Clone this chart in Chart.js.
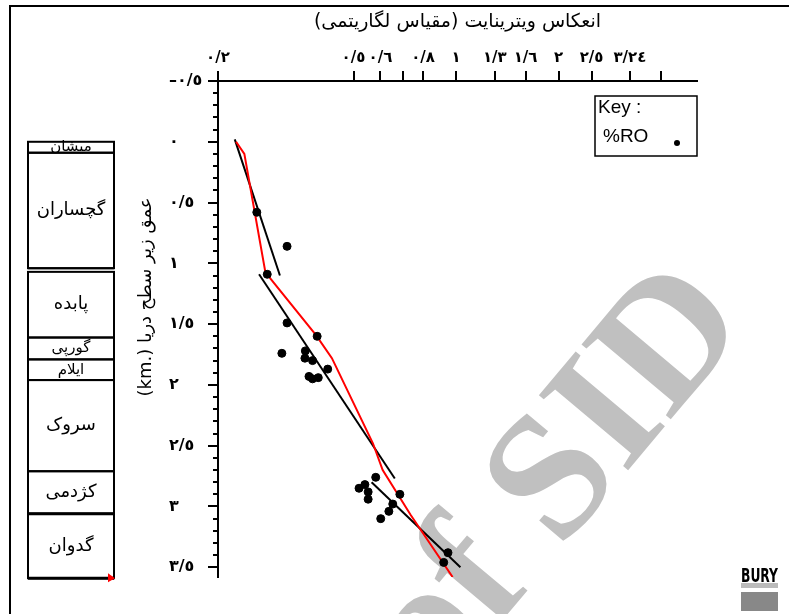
<!DOCTYPE html>
<html>
<head>
<meta charset="utf-8">
<script src="https://cdn.jsdelivr.net/npm/chart.js@4.4.0/dist/chart.umd.min.js"></script>
<style>
    html, body { margin: 0; padding: 0; background: #fff; }
    canvas { display: block; }
</style>
</head>
<body>
<canvas id="myChart" width="789" height="614"></canvas>
<script>
// vitrinite reflectance (%Ro) samples against depth (km)
const roValues = [0.260, 0.319, 0.279, 0.319, 0.391, 0.308, 0.361, 0.360, 0.379, 0.420, 0.370, 0.379, 0.394,
    0.581, 0.540, 0.519, 0.552, 0.552, 0.684, 0.652, 0.635, 0.601, 0.947, 0.920];
const depthValues = [0.58, 0.86, 1.09, 1.49, 1.60, 1.74, 1.72, 1.78, 1.80, 1.87, 1.93, 1.95, 1.94,
    2.76, 2.82, 2.85, 2.88, 2.94, 2.90, 2.98, 3.04, 3.10, 3.38, 3.46];

// red profile
const redRo = [0.226, 0.239, 0.275, 0.284, 0.388, 0.432, 0.570, 0.609, 0.736, 0.977];
const redDepth = [0.00, 0.10, 1.06, 1.12, 1.59, 1.78, 2.48, 2.70, 3.07, 3.58];

// black trend lines
const trendARo = [0.224, 0.304];
const trendADepth = [-0.02, 1.10];
const trendBRo = [0.264, 0.661];
const trendBDepth = [1.09, 2.77];
const trendCRo = [0.565, 1.030];
const trendCDepth = [2.80, 3.50];

// axis ticks
const roTicks = [0.2, 0.5, 0.6, 0.7, 0.8, 1, 1.3, 1.6, 2, 2.5, 3.24, 4];
const roLabels = ['٠/٢', '٠/٥', '٠/٦', '', '٠/٨', '١', '١/٣', '١/٦', '٢', '٢/٥', '٣/٢٤', ''];
const depthTicks = [-0.5, 0, 0.5, 1, 1.5, 2, 2.5, 3, 3.5];
const depthLabels = ['–٠/٥', '٠', '٠/٥', '١', '١/٥', '٢', '٢/٥', '٣', '٣/٥'];

// formations
const formationNames = ['میشان', 'گچساران', 'پابده', 'گورپی', 'ایلام', 'سروک', 'کژدمی', 'گدوان'];
const formationTop = [0.00, 0.09, 1.07, 1.61, 1.79, 1.96, 2.71, 3.06];
const formationBase = [0.09, 1.04, 1.61, 1.79, 1.96, 2.71, 3.06, 3.59];

const xTitle = 'انعکاس ویترینایت (مقیاس لگاریتمی)';
const yTitle = '(km.) عمق زیر سطح دریا';

function pts(xs, ys) {
    return xs.map((v, i) => ({ x: v, y: ys[i] }));
}

const decorations = {
    id: 'decorations',
    beforeDraw(chart) {
        const ctx = chart.ctx;
        ctx.save();
        ctx.fillStyle = '#fff';
        ctx.fillRect(0, 0, chart.width, chart.height);
        // watermark
        ctx.translate(656, 437);
        ctx.rotate(-50 * Math.PI / 180);
        ctx.font = 'bold 178px "Liberation Serif"';
        ctx.fillStyle = '#c0c0c0';
        ctx.textBaseline = 'alphabetic';
        const w = ctx.measureText('SID').width;
        ctx.textAlign = 'right';
        ctx.fillText('Archive of SID', w / 2, 0);
        ctx.restore();

        // frame
        ctx.save();
        ctx.strokeStyle = '#000';
        ctx.lineWidth = 2;
        ctx.beginPath();
        ctx.moveTo(10, chart.height);
        ctx.lineTo(10, 6);
        ctx.lineTo(chart.width, 6);
        ctx.stroke();
        ctx.restore();
    },
    afterDraw(chart) {
        const ctx = chart.ctx;
        const y = chart.scales.y;
        const area = chart.chartArea;
        ctx.save();

        // minor depth ticks
        ctx.strokeStyle = '#000';
        ctx.lineWidth = 2;
        for (let k = -4; k <= 35; k++) {
            if (k % 5 === 0) continue;
            const py = Math.round(y.getPixelForValue(k / 10));
            ctx.beginPath();
            ctx.moveTo(area.left - 5, py);
            ctx.lineTo(area.left, py);
            ctx.stroke();
        }

        // stratigraphic column
        const left = 28, right = 114;
        ctx.lineWidth = 2;
        formationNames.forEach((name, i) => {
            const yt = y.getPixelForValue(formationTop[i]);
            const yb = y.getPixelForValue(formationBase[i]);
            ctx.strokeRect(left, yt, right - left, yb - yt);
        });
        ctx.lineWidth = 3;
        [formationTop[7], formationBase[7]].forEach(d => {
            const py = y.getPixelForValue(d);
            ctx.beginPath();
            ctx.moveTo(left, py);
            ctx.lineTo(right, py);
            ctx.stroke();
        });
        ctx.lineWidth = 2;
        const dbl = y.getPixelForValue(formationBase[1]);
        ctx.beginPath();
        ctx.moveTo(left, dbl);
        ctx.lineTo(right, dbl);
        ctx.stroke();

        ctx.fillStyle = '#000';
        ctx.textAlign = 'center';
        ctx.textBaseline = 'middle';
        formationNames.forEach((name, i) => {
            const thick = formationBase[i] - formationTop[i];
            ctx.font = (thick < 0.2 ? '15px' : '18px') + ' "DejaVu Sans"';
            const py = y.getPixelForValue((formationTop[i] + formationBase[i]) / 2);
            ctx.fillText(name, 71, py);
        });

        // red marker at column base
        const pb = y.getPixelForValue(formationBase[7]);
        ctx.fillStyle = '#ff0000';
        ctx.beginPath();
        ctx.moveTo(108, pb - 5);
        ctx.lineTo(115, pb);
        ctx.lineTo(108, pb + 4);
        ctx.closePath();
        ctx.fill();

        // y title
        ctx.fillStyle = '#000';
        ctx.save();
        ctx.translate(146, 297);
        ctx.rotate(-Math.PI / 2);
        ctx.font = '18px "DejaVu Sans"';
        ctx.fillText(yTitle, 0, 0);
        ctx.restore();

        // key box
        ctx.lineWidth = 1.5;
        ctx.strokeRect(595, 96, 102, 60);
        ctx.textAlign = 'left';
        ctx.font = '19px "Liberation Sans"';
        ctx.fillText('Key :', 598, 108);
        ctx.fillText('%RO', 603, 137);
        ctx.beginPath();
        ctx.arc(677, 143, 3, 0, Math.PI * 2);
        ctx.fill();

        // logo
        ctx.font = 'bold 20px "DejaVu Sans Condensed", "DejaVu Sans"';
        ctx.textBaseline = 'alphabetic';
        ctx.fillText('BURY', 741, 582, 37);
        ctx.fillStyle = '#bbb';
        ctx.fillRect(741, 583, 37, 5);
        ctx.fillStyle = '#888';
        ctx.fillRect(741, 592, 37, 19);
        ctx.restore();
    }
};

const config = {
    type: 'scatter',
    data: {
        datasets: [
            {
                label: '%RO',
                data: pts(roValues, depthValues),
                backgroundColor: '#000',
                borderColor: '#000',
                pointRadius: 4,
                pointHoverRadius: 4
            },
            {
                type: 'line',
                data: pts(redRo, redDepth),
                borderColor: '#ff0000',
                borderWidth: 2,
                pointRadius: 0,
                tension: 0
            },
            {
                type: 'line',
                data: pts(trendARo, trendADepth),
                borderColor: '#000',
                borderWidth: 2,
                pointRadius: 0
            },
            {
                type: 'line',
                data: pts(trendBRo, trendBDepth),
                borderColor: '#000',
                borderWidth: 2,
                pointRadius: 0
            },
            {
                type: 'line',
                data: pts(trendCRo, trendCDepth),
                borderColor: '#000',
                borderWidth: 2,
                pointRadius: 0
            }
        ]
    },
    options: {
        responsive: false,
        devicePixelRatio: 1,
        animation: false,
        layout: {
            padding: { left: 169, top: 8, right: 92, bottom: 37 }
        },
        plugins: {
            legend: { display: false },
            tooltip: { enabled: false }
        },
        scales: {
            x: {
                type: 'logarithmic',
                position: 'top',
                min: 0.2,
                max: 5.1,
                afterBuildTicks: s => { s.ticks = roTicks.map(v => ({ value: v })); },
                afterFit: s => { s.height = 73; },
                ticks: {
                    callback: (v, i) => roLabels[i],
                    autoSkip: false,
                    maxRotation: 0,
                    padding: 4,
                    color: '#000',
                    font: { family: 'DejaVu Sans', weight: 'bold', size: 15 }
                },
                grid: { drawOnChartArea: false, tickLength: 10, color: '#000', lineWidth: 2 },
                border: { color: '#000', width: 2 },
                title: {
                    display: true,
                    text: xTitle,
                    color: '#000',
                    font: { family: 'DejaVu Sans', size: 19 },
                    padding: { top: 3, bottom: 0 }
                }
            },
            y: {
                type: 'linear',
                reverse: true,
                min: -0.5,
                max: 3.58,
                afterBuildTicks: s => { s.ticks = depthTicks.map(v => ({ value: v })); },
                afterFit: s => { s.width = 49; },
                ticks: {
                    callback: (v, i) => depthLabels[i],
                    autoSkip: false,
                    crossAlign: 'far',
                    color: '#000',
                    font: { family: 'DejaVu Sans', weight: 'bold', size: 16 }
                },
                grid: { drawOnChartArea: false, tickLength: 10, color: '#000', lineWidth: 2 },
                border: { color: '#000', width: 2 }
            }
        }
    },
    plugins: [decorations]
};

const myChart = new Chart(document.getElementById('myChart'), config);
</script>
</body>
</html>
